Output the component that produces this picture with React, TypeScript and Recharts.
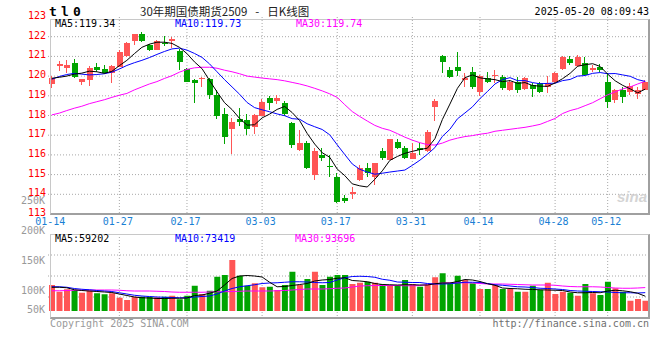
import React from 'react';
import { ComposedChart, Bar, Line, XAxis, YAxis, CartesianGrid, Cell } from 'recharts';

const dates = ['01-14','01-15','01-16','01-17','01-20','01-21','01-22','01-23','01-24','01-27',
'02-05','02-06','02-07','02-10','02-11','02-12','02-13','02-14','02-17','02-18','02-19','02-20','02-21','02-24','02-25','02-26','02-27','02-28',
'03-03','03-04','03-05','03-06','03-07','03-10','03-11','03-12','03-13','03-14','03-17','03-18','03-19','03-20','03-21','03-24','03-25','03-26','03-27','03-28','03-31',
'04-01','04-02','04-03','04-07','04-08','04-09','04-10','04-11','04-14','04-15','04-16','04-17','04-18','04-21','04-22','04-23','04-24','04-25','04-28','04-29','04-30',
'05-06','05-07','05-08','05-09','05-12','05-13','05-14','05-15','05-16','05-19'];

const tickDates = ['01-14','01-27','02-17','03-03','03-17','03-31','04-14','04-28','05-12'];
const gridDates = ['01-27','02-17','03-03','03-17','03-31','04-14','04-28','05-12'];

const open = [119.62,120.50,120.42,120.68,119.70,119.78,120.48,120.34,120.15,120.48,
121.00,121.76,122.12,121.58,121.33,121.70,121.80,121.29,120.34,119.80,
119.86,119.84,119.04,118.08,117.30,117.83,117.77,117.43,118.00,118.90,
118.75,118.62,117.60,116.25,116.62,114.98,116.00,115.45,114.90,113.83,
114.02,114.73,115.32,114.90,116.20,115.75,116.67,116.33,115.80,116.33,
116.22,118.45,121.00,120.31,120.48,119.82,120.22,119.20,119.89,119.98,
119.97,119.30,119.72,119.33,119.55,119.63,119.47,119.72,120.34,120.87,
120.51,120.65,120.32,120.48,119.72,118.79,119.30,119.21,119.10,119.30];
const high = [119.98,120.75,120.82,120.85,119.86,120.50,120.68,120.55,120.55,121.33,
121.72,122.15,122.25,121.65,121.82,122.05,121.97,121.36,120.40,119.85,
119.97,119.89,119.30,118.37,117.86,118.37,118.06,118.10,118.85,119.00,
119.05,118.72,117.65,117.26,116.70,116.33,116.36,116.00,115.07,113.95,
114.35,115.49,115.57,115.60,116.37,116.82,116.82,116.45,116.60,116.60,
117.28,118.82,121.07,120.48,121.24,120.14,120.45,120.06,120.22,120.31,
120.05,119.80,119.97,119.95,119.63,119.72,119.99,120.22,121.04,121.02,
121.07,120.95,120.56,120.60,120.14,119.35,119.46,119.63,119.46,119.78];
const low = [119.38,120.25,120.15,119.90,119.55,119.50,120.22,120.10,119.64,120.45,
120.98,121.58,121.74,121.27,121.30,121.53,121.42,120.30,119.68,118.65,
119.46,118.82,117.80,116.54,116.05,117.47,117.00,117.06,117.95,118.28,
118.58,117.97,116.37,116.22,115.30,114.73,115.71,114.90,113.55,113.55,
113.76,114.70,114.90,114.47,115.75,115.72,116.30,115.80,115.78,116.00,
116.15,117.73,120.14,119.89,119.98,119.46,119.33,118.99,119.66,119.66,
119.30,119.25,119.13,119.30,118.95,119.15,119.13,119.66,120.30,120.56,
120.48,120.00,120.22,120.20,118.37,118.65,118.65,119.05,118.84,119.28];
const close = [119.92,120.63,120.58,119.95,119.84,120.43,120.32,120.15,120.50,121.24,
121.70,122.12,121.76,121.30,121.78,121.62,121.86,120.74,119.72,119.65,
119.92,119.04,117.95,116.90,117.69,117.69,117.32,118.03,118.68,118.62,
118.90,118.06,116.50,116.62,115.35,116.21,115.86,115.38,113.62,113.68,
114.13,115.35,115.07,115.57,115.83,116.79,116.34,115.85,116.10,116.25,
117.18,118.74,120.74,119.97,120.26,119.88,119.46,119.99,119.72,120.05,
119.38,119.72,119.30,119.89,119.33,119.20,119.67,120.17,120.99,120.68,
120.99,120.06,120.43,120.31,118.70,119.30,118.93,119.50,119.30,119.72];

const ma5 = [119.89,119.94,120.00,120.10,120.15,120.25,120.22,120.14,120.24,120.53,
120.80,121.14,121.46,121.62,121.72,121.72,121.66,121.46,121.14,120.72,
120.38,119.78,119.20,118.65,118.30,117.85,117.51,117.53,117.88,118.07,
118.31,118.46,118.15,117.74,117.09,116.55,116.11,115.88,115.28,114.95,
114.53,114.43,114.37,114.76,115.19,115.72,115.92,116.08,116.18,116.27,
116.34,116.82,117.80,118.58,119.38,119.92,120.06,119.91,119.86,119.82,
119.72,119.77,119.63,119.67,119.52,119.49,119.48,119.65,119.87,120.14,
120.50,120.58,120.63,120.49,120.10,119.76,119.53,119.35,119.15,119.34];
const ma10 = [119.84,119.98,120.08,120.14,120.10,120.06,120.08,120.12,120.20,120.36,
120.54,120.68,120.80,120.94,121.10,121.25,121.38,121.42,121.32,121.15,
120.95,120.62,120.22,119.82,119.45,119.08,118.66,118.40,118.29,118.19,
118.08,117.99,117.84,117.81,117.58,117.43,117.29,117.02,116.51,116.02,
115.54,115.27,115.13,115.02,115.07,115.13,115.18,115.23,115.47,115.73,
116.03,116.37,116.94,117.30,117.83,118.13,118.44,118.86,119.22,119.60,
119.82,119.92,119.77,119.77,119.67,119.61,119.63,119.64,119.77,119.83,
120.00,120.03,120.14,120.18,120.12,120.13,120.06,119.99,119.82,119.73];
const ma30 = [118.03,118.12,118.25,118.37,118.47,118.60,118.70,118.80,118.92,119.03,
119.12,119.30,119.45,119.60,119.72,119.88,120.02,120.20,120.34,120.42,
120.45,120.45,120.40,120.30,120.22,120.12,120.00,119.95,119.90,119.86,
119.82,119.76,119.68,119.60,119.50,119.38,119.25,119.10,118.92,118.55,
118.20,117.95,117.72,117.50,117.35,117.25,117.08,116.90,116.75,116.62,
116.52,116.50,116.60,116.75,116.85,116.93,116.98,117.05,117.10,117.20,
117.25,117.30,117.35,117.40,117.47,117.55,117.70,117.85,118.10,118.25,
118.35,118.50,118.65,118.85,119.05,119.20,119.35,119.45,119.60,119.74];

// volume in thousands of lots
const vol = [104,77,87,84,73,81,71,67,71,53,
44,57,57,57,55,57,61,47,61,101,
68,81,137,144,204,141,101,111,95,97,
84,104,157,104,128,157,104,137,144,144,
108,113,117,113,108,104,104,124,108,97,
104,135,151,108,141,124,111,88,88,104,
88,88,77,77,101,84,113,68,77,73,
61,108,71,64,117,91,77,41,48,41];
const volMa5 = [95,95,93,85,82,80,78,76,74,68,
62,56,53,52,50,50,51,51,52,62,
64,71,80,104,130,140,142,140,136,115,
97,98,102,106,110,120,124,126,131,133,
122,120,117,110,106,105,104,105,105,104,
104,109,112,112,118,126,124,118,109,103,
92,90,89,87,86,85,84,83,82,76,
73,73,74,73,80,83,81,77,71,59.202];
const volMa10 = [97,97,95,90,87,85,82,80,78,73,
68,63,60,58,56,55,54,53,53,56,
58,60,68,80,90,97,101,105,110,112,
113,115,117,117,116,114,113,114,124,133,
138,139,138,135,127,123,116,115,114,114,
110,108,108,109,112,115,115,114,110,105,
103,100,97,96,94,91,90,88,86,82,
80,79,78,77,76,74,73,73,72,73.419];
const volMa30 = [81,81,82,83,84,84,84,84,84,83,
81,80,80,80,79,78,76,75,75,75,
75,76,77,77,78,79,80,80,80,80,
81,82,84,86,88,88,88,89,91,92,
96,100,101,102,102,102,102,101,101,102,
106,109,112,113,113,113,112,110,108,108,
108,107,106,105,104,104,104,103,100,98,
97,97,97,96,94,92,91,91,92,93.696];

const priceTicks = [113,114,115,116,117,118,119,120,121,122,123];
const priceGridTicks = [114,115,116,117,118,119,120,121,122];
const volLabelTicks = [50,100,150,200,250];

const MONO = '"DejaVu Sans Mono", monospace';
const RED = '#ff5555';
const GREEN = '#00a400';
const BLUE_TXT = '#1a7fd4';

const rows = dates.map((d, i) => ({
  date: d,
  open: open[i], high: high[i], low: low[i], close: close[i],
  range: [low[i], high[i]],
  ma5: ma5[i], ma10: ma10[i], ma30: ma30[i],
  vol: vol[i], vma5: volMa5[i], vma10: volMa10[i], vma30: volMa30[i],
}));

const Candle = (props: any) => {
  const { x, y, width, height, payload } = props;
  if (x == null || y == null) return null;
  const o = payload.open, c = payload.close, h = payload.high, l = payload.low;
  const color = c >= o ? RED : GREEN;
  const top = Math.min(y, y + height);
  const hh = Math.abs(height);
  const span = h - l || 1;
  const yO = top + ((h - o) / span) * hh;
  const yC = top + ((h - c) / span) * hh;
  const bx = Math.round(x);
  const bw = Math.round(width);
  const wx = bx + Math.floor((bw - 1) / 2);
  const t = Math.round(top);
  const b = Math.round(top + hh);
  const bt = Math.round(Math.min(yO, yC));
  const bb = Math.round(Math.max(yO, yC));
  return (
    <g shapeRendering="crispEdges">
      <rect x={wx} y={t} width={1} height={Math.max(1, b - t)} fill={color} />
      <rect x={bx} y={bt} width={bw} height={Math.max(1, bb - bt)} fill={color} />
    </g>
  );
};

const AXIS_W = 48;

const PriceTick = (p: any) => (
  <text x={AXIS_W - 2} y={p.y - 1.5} dy="0.35em" textAnchor="end" fill="#ff0000" fontSize={10} fontFamily={MONO}>
    {p.payload.value}
  </text>
);

const DateTick = (p: any) => (
  <text x={p.x - 1.5} y={p.y} dy="0.71em" textAnchor="middle" fill={BLUE_TXT} fontSize={10} fontFamily={MONO}>
    {p.payload.value}
  </text>
);

const VOL_TOP = 234;
const VOL_BOTTOM = 318;

const VolTick = (p: any) => {
  const yy = Math.min(p.y, VOL_BOTTOM - 9);
  return (
    <text x={AXIS_W - 3} y={yy} dy="0.35em" textAnchor="end" fill="#999999" fontSize={10} fontFamily={MONO}>
      {p.payload.value + 'K'}
    </text>
  );
};

const GRID = { stroke: '#a8a8a8', strokeDasharray: '1 2' };

export default function App() {
  const last = rows.length - 1;
  return (
    <div style={{ position: 'absolute', left: 0, top: 0, width: 660, height: 360, background: '#fff', overflow: 'hidden' }}>
      <ComposedChart
        width={660}
        height={232}
        data={rows}
        margin={{ top: 17, right: 11, bottom: 0, left: 0 }}
        style={{ position: 'absolute', left: 0, top: 0 }}
      >
        <XAxis dataKey="date" scale="band" ticks={tickDates} interval={0} axisLine={false} tickLine={false}
          tickSize={0} tickMargin={4} height={18} tick={<DateTick />} />
        <XAxis xAxisId="xg" dataKey="date" scale="band" ticks={gridDates} interval={0} hide height={0} />
        <YAxis yAxisId="p" domain={[113, 123]} ticks={priceTicks} interval={0} allowDataOverflow
          axisLine={false} tickLine={false} tickSize={0} tickMargin={2} width={AXIS_W} tick={<PriceTick />} />
        <YAxis yAxisId="pg" domain={[113, 123]} ticks={priceGridTicks} interval={0} allowDataOverflow hide width={0} />
        <CartesianGrid xAxisId="xg" yAxisId="pg" syncWithTicks {...GRID} />
        <Bar yAxisId="p" dataKey="range" barSize={6} shape={<Candle />} isAnimationActive={false} />
        <Line yAxisId="p" dataKey="ma30" stroke="#ff00ff" strokeWidth={1} dot={false} isAnimationActive={false} />
        <Line yAxisId="p" dataKey="ma10" stroke="#0000ff" strokeWidth={1} dot={false} isAnimationActive={false} />
        <Line yAxisId="p" dataKey="ma5" stroke="#000000" strokeWidth={1} dot={false} isAnimationActive={false} />
      </ComposedChart>

      <ComposedChart
        width={660}
        height={360}
        data={rows}
        margin={{ top: VOL_TOP, right: 11, bottom: 360 - VOL_BOTTOM, left: 0 }}
        style={{ position: 'absolute', left: 0, top: 0 }}
      >
        <XAxis dataKey="date" scale="band" hide height={0} />
        <XAxis xAxisId="xg" dataKey="date" scale="band" ticks={gridDates} interval={0} hide height={0} />
        <YAxis yAxisId="lab" domain={[54.5, 194.5]} ticks={volLabelTicks} interval={0} allowDataOverflow
          axisLine={false} tickLine={false} tickSize={0} tickMargin={3} width={AXIS_W} tick={<VolTick />} />
        <YAxis yAxisId="v" domain={[-28, 308]} allowDataOverflow hide width={0} />
        <YAxis yAxisId="g" domain={[0, 4]} ticks={[1, 2, 3]} interval={0} allowDataOverflow hide width={0} />
        <CartesianGrid xAxisId="xg" yAxisId="g" syncWithTicks {...GRID} />
        <Bar yAxisId="v" dataKey="vol" barSize={6} isAnimationActive={false}>
          {rows.map((r, i) => (
            <Cell key={i} fill={r.close >= r.open ? RED : GREEN} />
          ))}
        </Bar>
        <Line yAxisId="v" dataKey="vma30" stroke="#ff00ff" strokeWidth={1} dot={false} isAnimationActive={false} />
        <Line yAxisId="v" dataKey="vma10" stroke="#0000ff" strokeWidth={1} dot={false} isAnimationActive={false} />
        <Line yAxisId="v" dataKey="vma5" stroke="#000000" strokeWidth={1} dot={false} isAnimationActive={false} />
      </ComposedChart>

      <div style={{ position: 'absolute', left: 50, top: 19, width: 600, height: 196, boxSizing: 'border-box',
        borderTop: '1px solid #c8c8c8', borderLeft: '1px solid #c8c8c8', borderRight: '2px solid #a0a0a0', borderBottom: '2px solid #a0a0a0' }} />
      <div style={{ position: 'absolute', left: 50, top: VOL_TOP, width: 600, height: 85, boxSizing: 'border-box',
        borderTop: '1px solid #c8c8c8', borderLeft: '1px solid #c8c8c8', borderRight: '2px solid #a0a0a0', borderBottom: '2px solid #a0a0a0' }} />

      <svg width={660} height={360} style={{ position: 'absolute', left: 0, top: 0 }}>
        <text x={49} y={16} fontSize={13} fontWeight="bold" fontFamily={MONO} letterSpacing={4.2} fill="#000">tl0</text>
        <text x={140} y={15.5} fontSize={11.5} fontFamily='"Noto Sans CJK SC", sans-serif' fill="#222">
          30年期国债期货2509<tspan dx={8}>-</tspan><tspan dx={8}>日K线图</tspan>
        </text>
        <text x={649} y={15} textAnchor="end" fontSize={10} fontFamily={MONO} fill="#000">2025-05-20 08:09:43</text>

        <text x={55} y={27} fontSize={10} fontFamily={MONO} fill="#000">{'MA5:' + ma5[last].toFixed(2)}</text>
        <text x={175} y={27} fontSize={10} fontFamily={MONO} fill="#0000ff">{'MA10:' + ma10[last].toFixed(2)}</text>
        <text x={296} y={27} fontSize={10} fontFamily={MONO} fill="#ff00ff">{'MA30:' + ma30[last].toFixed(2)}</text>

        <text x={55} y={242} fontSize={10} fontFamily={MONO} fill="#000">{'MA5:' + Math.round(volMa5[last] * 1000)}</text>
        <text x={175} y={242} fontSize={10} fontFamily={MONO} fill="#0000ff">{'MA10:' + Math.round(volMa10[last] * 1000)}</text>
        <text x={295} y={242} fontSize={10} fontFamily={MONO} fill="#ff00ff">{'MA30:' + Math.round(volMa30[last] * 1000)}</text>

        <text x={647} y={202} textAnchor="end" fontSize={15} fontStyle="italic" fontWeight="bold" fontFamily="Liberation Sans, sans-serif" fill="#d4d4d4">sina</text>

        <text x={50} y={327} fontSize={10} fontFamily={MONO} fill="#9a9a9a">Copyright 2025 SINA.COM</text>
        <text x={649} y={327} textAnchor="end" fontSize={10} fontFamily={MONO} fill="#707070">http://finance.sina.com.cn</text>
      </svg>
    </div>
  );
}
